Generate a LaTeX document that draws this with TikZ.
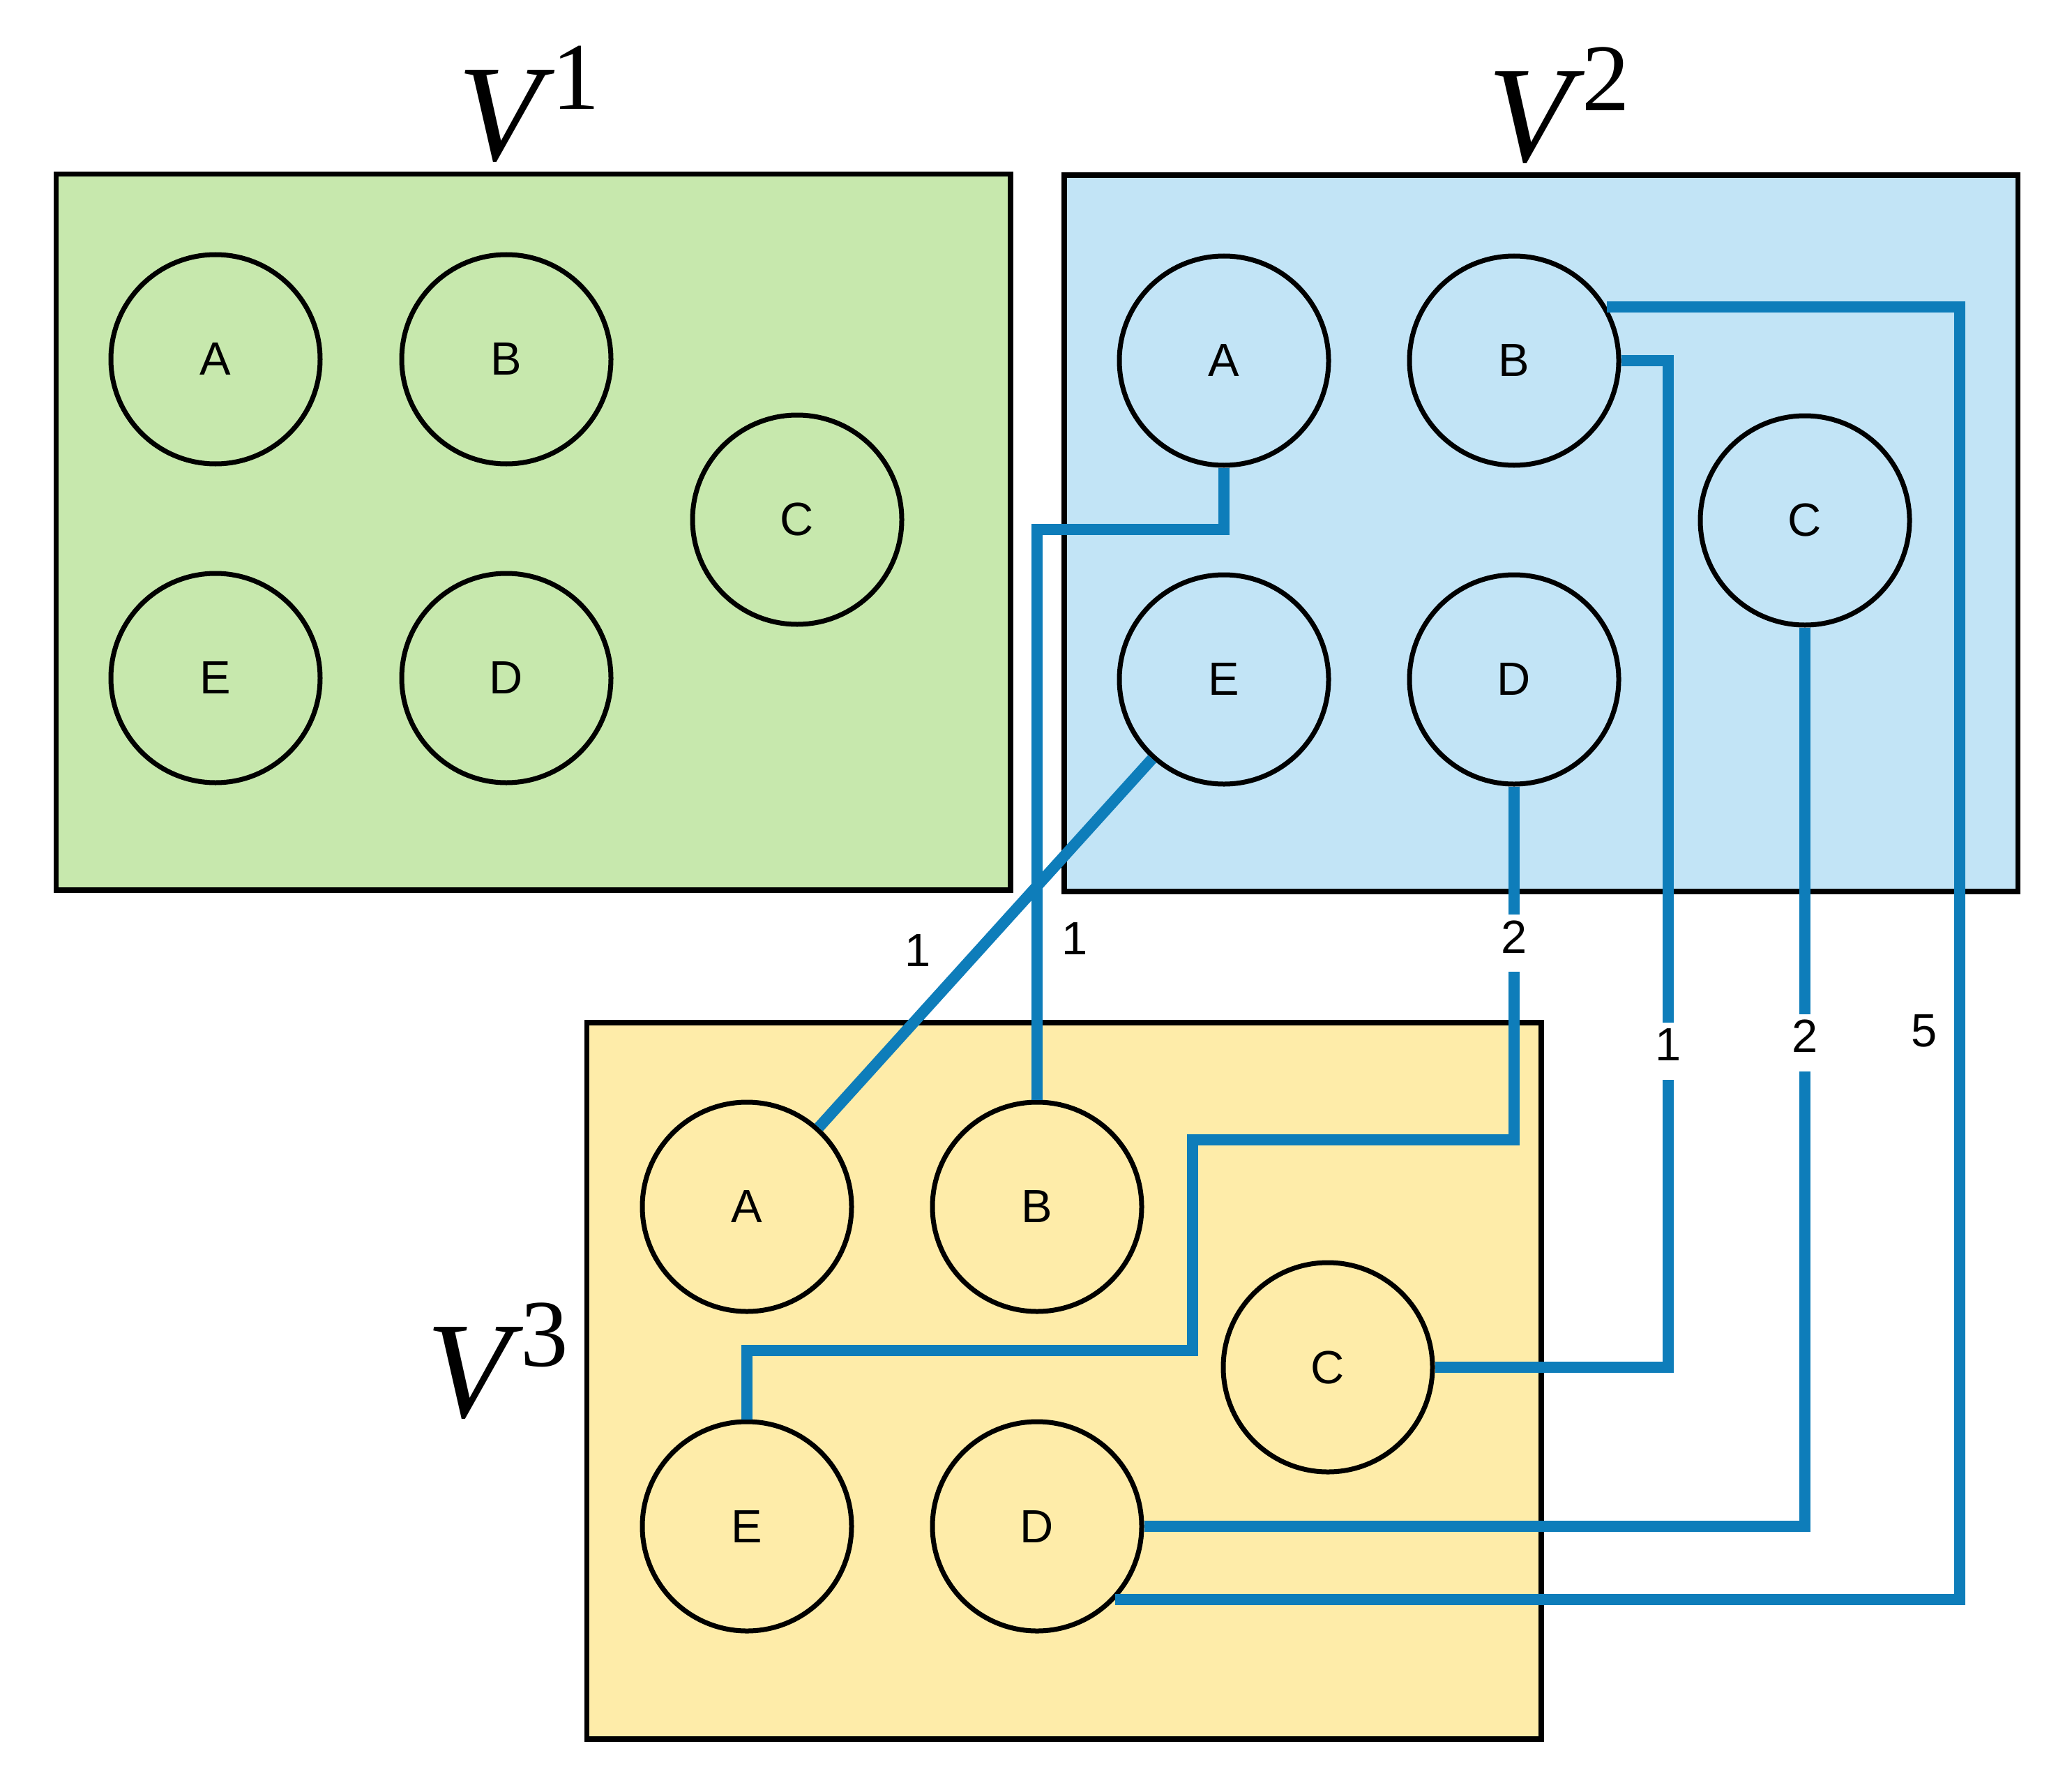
\documentclass[tikz,border=0pt]{standalone}
\usepackage{fontspec}
\setmainfont{Liberation Sans}
\newfontfamily\serifv{Liberation Serif}
\usetikzlibrary{positioning}
\definecolor{panelgreen}{HTML}{C7E8AD}
\definecolor{panelblue}{HTML}{C2E4F6}
\definecolor{panelyellow}{HTML}{FEECA9}
\definecolor{linkblue}{HTML}{0E7DBA}
\newcommand{\vset}[1]{{\serifv\fontsize{56}{60}\selectfont\itshape V\kern0.15cm\raisebox{0.73cm}{\fontsize{39}{40}\selectfont\upshape #1}}}

\begin{document}
\begin{tikzpicture}[
    every node/.style={font=\fontsize{19}{22}\selectfont},
    panel/.style={draw=black, line width=0.073cm},
    vertex/.style={circle, draw=black, line width=0.07cm, minimum size=3.0cm, inner sep=0pt},
    link/.style={draw=linkblue, line width=0.16cm},
    gap/.style={fill=white, inner xsep=3pt, inner ysep=0.08cm, text height=0.47cm, text depth=0.19cm},
    weight/.style={inner sep=0pt}
]
    \useasboundingbox (0,0) rectangle (29.71,-25.55);

    % the three panels
    \draw[panel, fill=panelgreen] (0.806,-2.496) rectangle (14.49,-12.76);
    \draw[panel, fill=panelblue] (15.26,-2.51) rectangle (28.935,-12.78);
    \draw[panel, fill=panelyellow] (8.415,-14.66) rectangle (22.10,-24.93);

    \node[anchor=base west] (v1) at (6.44,-2.30) {\vset{1}};
    \node[anchor=base west] (v2) at (21.21,-2.32) {\vset{2}};
    \node[anchor=base west] (v3) at (5.99,-20.31) {\vset{3}};

    % V^1
    \node[vertex] (A1) at (3.09,-5.15) {A};
    \node[vertex] (B1) at (7.26,-5.15) {B};
    \node[vertex] (C1) at (11.43,-7.45) {C};
    \node[vertex] (E1) at (3.09,-9.72) {E};
    \node[vertex] (D1) at (7.26,-9.72) {D};

    % V^2
    \node[vertex] (A2) at (17.55,-5.17) {A};
    \node[vertex] (B2) at (21.71,-5.17) {B};
    \node[vertex] (C2) at (25.88,-7.46) {C};
    \node[vertex] (E2) at (17.55,-9.74) {E};
    \node[vertex] (D2) at (21.71,-9.74) {D};

    % V^3
    \node[vertex] (A3) at (10.71,-17.30) {A};
    \node[vertex] (B3) at (14.87,-17.30) {B};
    \node[vertex] (C3) at (19.04,-19.60) {C};
    \node[vertex] (E3) at (10.71,-21.88) {E};
    \node[vertex] (D3) at (14.87,-21.88) {D};

    % links from V^2 down to V^3
    \coordinate (k2) at (14.87,-7.59);
    \coordinate (k3a) at (17.10,-16.34);
    \coordinate (k3b) at (10.71,-19.36);
    \coordinate (k4) at (23.92,0);
    \coordinate (k6) at (28.10,0);

    \path[link] (E2) -- node[weight, midway, left=0.70cm, yshift=-0.11cm] {1} (A3);
    \path[link] (A2.south) |- (k2) -- node[weight, pos=0.718, right=0.27cm] {1} (B3.north);
    \path[link] (D2.south) |- node[gap, pos=0.222] {2} (k3a) |- (k3b) -- (E3.north);
    \path[link] (B2.east) -| node[gap, pos=0.843] {1} (k4 |- C3.east) -- (C3.east);
    \path[link] (C2.south) |- node[gap, pos=0.231] {2} (D3.east);
    \path[link] (B2.30) -| node[weight, pos=0.78, left=0.24cm] {5} (k6 |- D3.-43) -- (D3.-43);
\end{tikzpicture}
\end{document}
